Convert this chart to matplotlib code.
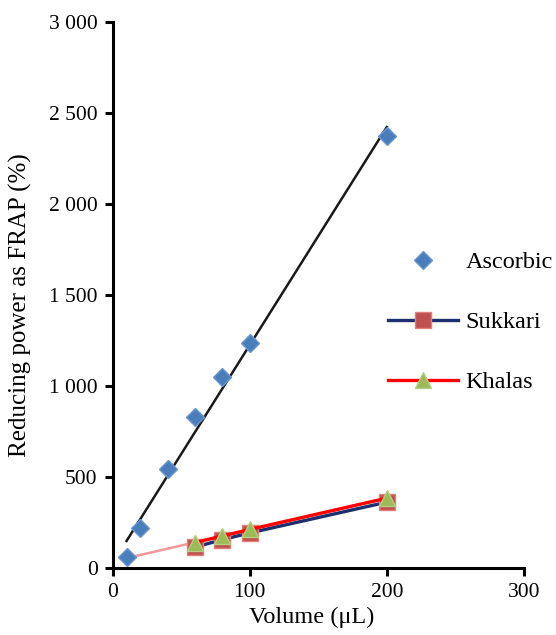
import numpy as np
import matplotlib.pyplot as plt
from matplotlib.ticker import FuncFormatter

# data
ascorbic_x = [10, 20, 40, 60, 80, 100, 200]
ascorbic_y = [60, 220, 545, 828, 1050, 1235, 2372]

extract_x = [60, 80, 100, 200]
sukkari_y = [115, 156, 193, 362]
khalas_y = [140, 176, 212, 384]

trend_x = [10, 200]

x_ticks = [0, 100, 200, 300]
y_ticks = [0, 500, 1000, 1500, 2000, 2500, 3000]


def linear_trend(x, y, x_range):
    """Least squares line evaluated over x_range."""
    slope, intercept = np.polyfit(x, y, 1)
    xs = np.array(x_range, dtype=float)
    return xs, slope * xs + intercept


def main():
    plt.rcParams["font.family"] = ["Liberation Serif", "DejaVu Serif"]

    fig = plt.figure(figsize=(5.56, 6.35), dpi=100)
    ax = fig.add_axes([0.203, 0.1055, 0.739, 0.8595])

    # trend lines
    tx, ty = linear_trend(ascorbic_x, ascorbic_y, trend_x)
    ax.plot(tx, ty, color="#1a1a1a", linewidth=1.8, zorder=2)
    kx, ky = linear_trend(extract_x, khalas_y, trend_x)
    ax.plot(kx, ky, color="#f08080", linewidth=1.8, alpha=0.8, zorder=2)

    ax.plot(ascorbic_x, ascorbic_y, linestyle="none", marker="D", markersize=9,
            color="#4a7ebb", markeredgecolor="#6b96cc", label="Ascorbic", zorder=4)
    ax.plot(extract_x, sukkari_y, color="#1c2f6e", linewidth=2.4, marker="s",
            markersize=11, markerfacecolor="#c0504d", markeredgecolor="#e07f7c",
            label="Sukkari", zorder=3)
    ax.plot(extract_x, khalas_y, color="#ff0000", linewidth=2.4, marker="^",
            markersize=11, markerfacecolor="#9bbb59", markeredgecolor="#b5cf80",
            label="Khalas", zorder=3.5)

    ax.set_xlim(0, 300)
    ax.set_ylim(0, 3000)
    ax.set_xticks(x_ticks)
    ax.set_yticks(y_ticks)
    ax.yaxis.set_major_formatter(FuncFormatter(lambda v, p: f"{v:,.0f}".replace(",", " ")))

    for side in ["top", "right"]:
        ax.spines[side].set_visible(False)
    for side in ["left", "bottom"]:
        ax.spines[side].set_linewidth(2.2)
        ax.spines[side].set_color("black")
    ax.tick_params(direction="out", length=6, width=2.2, labelsize=15.5, pad=5)

    ax.set_xlabel("Volume (μL)", fontsize=17.5)
    ax.set_ylabel("Reducing power as FRAP (%)", fontsize=18)
    ax.xaxis.set_label_coords(0.484, -0.072)
    ax.yaxis.set_label_coords(-0.198, 0.482)

    fig.legend(loc="upper left", bbox_to_anchor=(388 / 556, 1 - 251 / 635),
               frameon=False, handlelength=2.9, handletextpad=0.3,
               labelspacing=1.57, borderpad=0, borderaxespad=0, fontsize=17.5)

    fig.savefig("out.png", dpi=100)
    plt.close(fig)


if __name__ == "__main__":
    main()
